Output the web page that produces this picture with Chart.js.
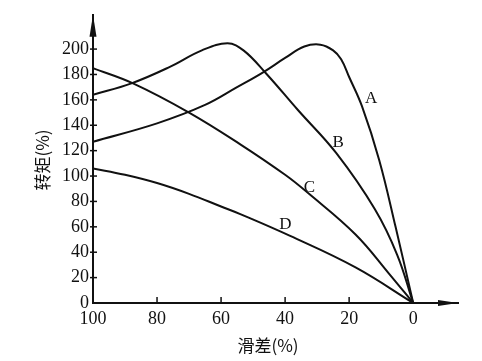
<!DOCTYPE html>
<html>
<head>
<meta charset="utf-8">
<script src="https://cdn.jsdelivr.net/npm/chart.js@4"></script>
<style>
  html, body { margin: 0; padding: 0; background: #fff; }
  #wrap { width: 482px; height: 361px; }
</style>
</head>
<body>
<div id="wrap"><canvas id="chart" width="482" height="361"></canvas></div>
<script>
// curve data (slip %, torque %)
const slipA = [100, 80, 65, 55, 47, 40, 34, 29, 25, 22.5, 20, 16, 10.6, 5.5, 0];
const torqueA = [127, 141.5, 156, 170, 181.5, 193, 202, 203.5, 199, 192, 178, 155, 112.5, 60, 0];
const slipB = [100, 88, 76, 66, 58, 53, 46, 36, 24, 12, 5, 0];
const torqueB = [164, 173, 186, 199, 204.5, 199, 181, 152, 118, 74, 38, 0];
const slipC = [100, 87.5, 70, 54, 40, 33, 18, 7.5, 0];
const torqueC = [185, 173, 150, 125, 101, 87, 54, 23, 0];
const slipD = [100, 90, 80, 70, 60, 54, 38.6, 18, 0];
const torqueD = [106, 101, 94.5, 86, 76, 70, 53, 28, 0];

// curve labels
const labelText = ['A', 'B', 'C', 'D'];
const labelSlip = [13.1, 23.4, 32.4, 39.9];
const labelTorque = [161, 126, 91, 62];

const xTicks = [100, 80, 60, 40, 20, 0];
const yTicks = [0, 20, 40, 60, 80, 100, 120, 140, 160, 180, 200];

const serif = '"Liberation Serif", "DejaVu Serif", serif';
const cjk = '"Noto Sans CJK SC", sans-serif';

function toPoints(xs, ys) {
    return xs.map((x, i) => ({ x: x, y: ys[i] }));
}

function curve(xs, ys) {
    return {
        data: toPoints(xs, ys),
        borderColor: '#111',
        borderWidth: 2,
        pointRadius: 0,
        showLine: true,
        fill: false,
        tension: 0.4
    };
}

// arrows, inward ticks, axis titles and curve letters
const decor = {
    id: 'decor',
    afterDraw(chart) {
        const ctx = chart.ctx;
        const xs = chart.scales.x, ys = chart.scales.y;
        const x0 = xs.getPixelForValue(100);
        const y0 = ys.getPixelForValue(0);
        ctx.save();
        ctx.fillStyle = '#111';
        ctx.strokeStyle = '#111';
        ctx.lineWidth = 1.5;

        // y arrow
        const top = ys.top;
        ctx.beginPath();
        ctx.moveTo(x0, top);
        ctx.lineTo(x0 - 3.5, top + 22);
        ctx.lineTo(x0 + 3.5, top + 22);
        ctx.closePath();
        ctx.fill();

        // x arrow
        const right = xs.right;
        ctx.beginPath();
        ctx.moveTo(right, y0);
        ctx.lineTo(right - 20, y0 - 3);
        ctx.lineTo(right - 20, y0 + 3);
        ctx.closePath();
        ctx.fill();

        // ticks
        yTicks.forEach(v => {
            if (v === 0) return;
            const p = ys.getPixelForValue(v);
            ctx.beginPath();
            ctx.moveTo(x0 - 3, p);
            ctx.lineTo(x0 + 4, p);
            ctx.stroke();
        });
        xTicks.forEach(v => {
            if (v === 100 || v === 0) return;
            const p = xs.getPixelForValue(v);
            ctx.beginPath();
            ctx.moveTo(p, y0);
            ctx.lineTo(p, y0 - 6);
            ctx.stroke();
        });

        // curve letters
        ctx.font = '17px ' + serif;
        ctx.textAlign = 'center';
        ctx.textBaseline = 'middle';
        labelText.forEach((t, i) => {
            ctx.fillText(t, xs.getPixelForValue(labelSlip[i]), ys.getPixelForValue(labelTorque[i]));
        });

        // axis titles
        ctx.font = '17px ' + cjk;
        ctx.fillText('滑差(%)', 268, 346);
        ctx.translate(43, 160);
        ctx.rotate(-Math.PI / 2);
        ctx.fillText('转矩(%)', 0, 0);
        ctx.restore();
    }
};

new Chart(document.getElementById('chart'), {
    type: 'scatter',
    data: {
        datasets: [
            curve(slipA, torqueA),
            curve(slipB, torqueB),
            curve(slipC, torqueC),
            curve(slipD, torqueD)
        ]
    },
    options: {
        responsive: false,
        animation: false,
        layout: { padding: { top: 8, right: 24, left: 0, bottom: 0 } },
        plugins: { legend: { display: false }, tooltip: { enabled: false } },
        scales: {
            x: {
                type: 'linear',
                reverse: true,
                min: -14,
                max: 100,
                afterFit(s) { s.height = 58; },
                afterBuildTicks(s) { s.ticks = xTicks.map(v => ({ value: v })); },
                border: { display: true, color: '#111', width: 2 },
                grid: { display: false, drawTicks: false },
                ticks: {
                    color: '#111',
                    padding: 5,
                    maxRotation: 0,
                    autoSkip: false,
                    font: { family: serif, size: 18 }
                }
            },
            y: {
                type: 'linear',
                min: 0,
                max: 227,
                afterFit(s) { s.width = 93; },
                afterBuildTicks(s) { s.ticks = yTicks.map(v => ({ value: v })); },
                border: { display: true, color: '#111', width: 2 },
                grid: { display: false, drawTicks: false },
                ticks: {
                    color: '#111',
                    padding: 4,
                    autoSkip: false,
                    font: { family: serif, size: 18 }
                }
            }
        }
    },
    plugins: [decor]
});
</script>
</body>
</html>
